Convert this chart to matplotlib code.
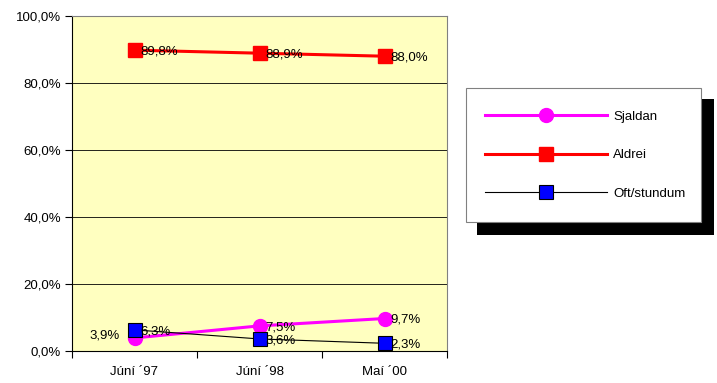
import matplotlib
matplotlib.use("Agg")
from matplotlib import pyplot as plt
from matplotlib.patches import Rectangle
from matplotlib.ticker import FixedLocator, FuncFormatter

# data
categories = ["Júní ´97", "Júní ´98", "Maí ´00"]
sjaldan = [3.9, 7.5, 9.7]
aldrei = [89.8, 88.9, 88.0]
oft = [6.3, 3.6, 2.3]

plt.rcParams['font.family'] = ['Liberation Sans', 'DejaVu Sans']
FS = 9.5

def pct(v):
    return ("%.1f%%" % v).replace('.', ',')

fig = plt.figure(figsize=(7.17, 3.83), dpi=100)
ax = fig.add_axes([72/717., 32/383., 375/717., 335/383.])
ax.set_facecolor('#FFFFC0')

x = list(range(len(categories)))
h1, = ax.plot(x, sjaldan, '-o', color='#FF00FF', lw=2.2, ms=10, mec='#FF00FF', label='Sjaldan', zorder=3)
h2, = ax.plot(x, aldrei, '-s', color='#FF0000', lw=2.2, ms=10.5, mec='#FF0000', label='Aldrei', zorder=3)
h3, = ax.plot(x, oft, '-s', color='black', lw=0.8, ms=10.5, mfc='#0000FF', mec='black', mew=0.8, label='Oft/stundum', zorder=4)

# data labels
for xi, v in zip(x, aldrei):
    ax.annotate(pct(v), (xi, v), xytext=(4, -1), textcoords='offset points', va='center', ha='left', fontsize=FS, zorder=5)
for xi, v in zip(x, oft):
    ax.annotate(pct(v), (xi, v), xytext=(4, -1), textcoords='offset points', va='center', ha='left', fontsize=FS, zorder=5)
for i, (xi, v) in enumerate(zip(x, sjaldan)):
    if i == 0:
        ax.annotate(pct(v), (xi, v), xytext=(-11, 2), textcoords='offset points', va='center', ha='right', fontsize=FS, zorder=5)
    else:
        ax.annotate(pct(v), (xi, v), xytext=(4, -1), textcoords='offset points', va='center', ha='left', fontsize=FS, zorder=5)

ax.set_xlim(-0.5, 2.5)
ax.set_ylim(0, 100)
ax.set_yticks([0, 20, 40, 60, 80, 100])
ax.yaxis.set_major_formatter(FuncFormatter(lambda v, p: pct(v)))
ax.xaxis.set_major_locator(FixedLocator([-0.5, 0.5, 1.5, 2.5]))
ax.xaxis.set_major_formatter(FuncFormatter(lambda v, p: ''))
ax.xaxis.set_minor_locator(FixedLocator(x))
ax.set_xticklabels(categories, minor=True)
ax.tick_params(axis='x', which='major', direction='out', length=5, width=0.8)
ax.tick_params(axis='x', which='minor', length=0, pad=11, labelsize=FS)
ax.tick_params(axis='y', direction='out', length=5, width=0.8, labelsize=FS, pad=3)
ax.grid(axis='y', color='black', lw=0.6)
ax.set_axisbelow(True)
for s in ['top', 'right']:
    ax.spines[s].set_color('#808080')
    ax.spines[s].set_linewidth(0.8)
for s in ['left', 'bottom']:
    ax.spines[s].set_color('black')
    ax.spines[s].set_linewidth(0.8)

# legend box with black shadow
W, H = 717., 383.
fig.patches.append(Rectangle((477/W, 1 - 235/H), 237/W, 136/H, transform=fig.transFigure,
                             facecolor='black', edgecolor='none', zorder=0))
fig.patches.append(Rectangle((466/W, 1 - 222/H), 235/W, 134/H, transform=fig.transFigure,
                             facecolor='white', edgecolor='#808080', lw=0.8, zorder=1))
leg = fig.legend(handles=[h1, h2, h3], loc='upper left', bbox_to_anchor=(478/W, 1 - 104/H),
                 frameon=False, fontsize=FS, handlelength=9.3, handletextpad=0.45,
                 labelspacing=2.0, borderpad=0)
leg.set_zorder(2)

fig.savefig('out.png', dpi=100)
